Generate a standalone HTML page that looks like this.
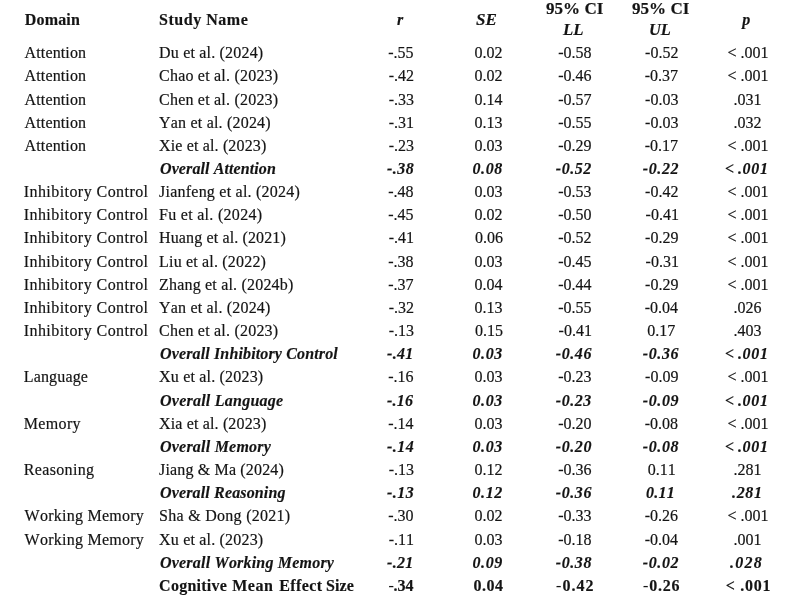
<!DOCTYPE html>
<html><head><meta charset="utf-8"><title>Table</title>
<style>
html,body{margin:0;padding:0;background:#fff;}
body{font-kerning:none;font-variant-ligatures:none;width:800px;height:613px;position:relative;overflow:hidden;font-family:"Liberation Serif","Times New Roman",serif;font-size:16px;color:#141414;}
.t{position:absolute;white-space:pre;line-height:20px;height:20px;-webkit-text-stroke:0.18px #141414;}
.b{font-weight:bold;-webkit-text-stroke:0.15px;}
.bi{font-weight:bold;font-style:italic;-webkit-text-stroke:0.15px;}
.rw{font-weight:normal;}
.lt{margin-right:3px;}
</style></head><body>
<div class="t b" style="left:24.80px;top:10px;letter-spacing:0.16px">Domain</div>
<div class="t b" style="left:159.05px;top:10px;letter-spacing:0.53px">Study Name</div>
<div class="t bi" style="left:397.07px;top:10px">r</div>
<div class="t bi" style="left:476.43px;top:10px;transform:scaleX(1.0624);transform-origin:0 0">SE</div>
<div class="t b" style="left:545.93px;top:-1px;transform:scaleX(1.0662);transform-origin:0 0">95% CI</div>
<div class="t bi" style="left:563.45px;top:20px;transform:scaleX(1.0489);transform-origin:0 0">LL</div>
<div class="t b" style="left:631.87px;top:-1px;transform:scaleX(1.0663);transform-origin:0 0">95% CI</div>
<div class="t bi" style="left:649.39px;top:20px;transform:scaleX(1.0252);transform-origin:0 0">UL</div>
<div class="t bi" style="left:742.25px;top:10px">p</div>
<div class="t" style="left:24.60px;top:43px;letter-spacing:0.13px">Attention</div>
<div class="t" style="left:159.05px;top:43px;letter-spacing:0.19px">Du et al. (2024)</div>
<div class="t" style="left:388.20px;top:43px">-.55</div>
<div class="t" style="left:474.45px;top:43px">0.02</div>
<div class="t" style="left:558.15px;top:43px">-0.58</div>
<div class="t" style="left:645.10px;top:43px">-0.52</div>
<div class="t" style="left:727.60px;top:43px">&lt; .001</div>
<div class="t" style="left:24.60px;top:66px;letter-spacing:0.13px">Attention</div>
<div class="t" style="left:159.05px;top:66px;letter-spacing:0.21px">Chao et al. (2023)</div>
<div class="t" style="left:388.65px;top:66px">-.42</div>
<div class="t" style="left:474.45px;top:66px">0.02</div>
<div class="t" style="left:558.15px;top:66px">-0.46</div>
<div class="t" style="left:644.65px;top:66px">-0.37</div>
<div class="t" style="left:727.60px;top:66px">&lt; .001</div>
<div class="t" style="left:24.60px;top:90px;letter-spacing:0.13px">Attention</div>
<div class="t" style="left:159.05px;top:90px;letter-spacing:0.21px">Chen et al. (2023)</div>
<div class="t" style="left:388.65px;top:90px">-.33</div>
<div class="t" style="left:474.45px;top:90px">0.14</div>
<div class="t" style="left:558.15px;top:90px">-0.57</div>
<div class="t" style="left:645.10px;top:90px">-0.03</div>
<div class="t" style="left:733.45px;top:90px">.031</div>
<div class="t" style="left:24.60px;top:113px;letter-spacing:0.13px">Attention</div>
<div class="t" style="left:159.05px;top:113px;letter-spacing:0.20px">Yan et al. (2024)</div>
<div class="t" style="left:388.65px;top:113px">-.31</div>
<div class="t" style="left:474.45px;top:113px">0.13</div>
<div class="t" style="left:558.15px;top:113px">-0.55</div>
<div class="t" style="left:645.10px;top:113px">-0.03</div>
<div class="t" style="left:733.45px;top:113px">.032</div>
<div class="t" style="left:24.60px;top:136px;letter-spacing:0.13px">Attention</div>
<div class="t" style="left:159.05px;top:136px;letter-spacing:0.15px">Xie et al. (2023)</div>
<div class="t" style="left:388.65px;top:136px">-.23</div>
<div class="t" style="left:474.45px;top:136px">0.03</div>
<div class="t" style="left:558.15px;top:136px">-0.29</div>
<div class="t" style="left:644.65px;top:136px">-0.17</div>
<div class="t" style="left:727.60px;top:136px">&lt; .001</div>
<div class="t bi" style="left:160.00px;top:159px;letter-spacing:0.10px">Overall Attention</div>
<div class="t bi" style="left:387.05px;top:159px;letter-spacing:0.43px">-.38</div>
<div class="t bi" style="left:472.40px;top:159px;letter-spacing:0.64px">0.08</div>
<div class="t bi" style="left:555.85px;top:159px;letter-spacing:0.54px">-0.52</div>
<div class="t bi" style="left:642.80px;top:159px;letter-spacing:0.60px">-0.22</div>
<div class="t bi" style="left:725.10px;top:159px;letter-spacing:0.70px"><span class="lt">&lt;</span>.001</div>
<div class="t" style="left:23.70px;top:182px;letter-spacing:0.44px">Inhibitory Control</div>
<div class="t" style="left:159.05px;top:182px;letter-spacing:0.23px">Jianfeng et al. (2024)</div>
<div class="t" style="left:388.20px;top:182px">-.48</div>
<div class="t" style="left:474.45px;top:182px">0.03</div>
<div class="t" style="left:558.15px;top:182px">-0.53</div>
<div class="t" style="left:645.10px;top:182px">-0.42</div>
<div class="t" style="left:727.60px;top:182px">&lt; .001</div>
<div class="t" style="left:23.70px;top:205px;letter-spacing:0.44px">Inhibitory Control</div>
<div class="t" style="left:159.05px;top:205px;letter-spacing:0.29px">Fu et al. (2024)</div>
<div class="t" style="left:388.20px;top:205px">-.45</div>
<div class="t" style="left:474.45px;top:205px">0.02</div>
<div class="t" style="left:558.15px;top:205px">-0.50</div>
<div class="t" style="left:645.55px;top:205px">-0.41</div>
<div class="t" style="left:727.60px;top:205px">&lt; .001</div>
<div class="t" style="left:23.70px;top:228px;letter-spacing:0.44px">Inhibitory Control</div>
<div class="t" style="left:159.05px;top:228px;letter-spacing:0.13px">Huang et al. (2021)</div>
<div class="t" style="left:388.65px;top:228px">-.41</div>
<div class="t" style="left:474.90px;top:228px">0.06</div>
<div class="t" style="left:558.15px;top:228px">-0.52</div>
<div class="t" style="left:645.10px;top:228px">-0.29</div>
<div class="t" style="left:727.60px;top:228px">&lt; .001</div>
<div class="t" style="left:23.70px;top:252px;letter-spacing:0.44px">Inhibitory Control</div>
<div class="t" style="left:159.05px;top:252px;letter-spacing:0.18px">Liu et al. (2022)</div>
<div class="t" style="left:388.20px;top:252px">-.38</div>
<div class="t" style="left:474.45px;top:252px">0.03</div>
<div class="t" style="left:558.15px;top:252px">-0.45</div>
<div class="t" style="left:645.55px;top:252px">-0.31</div>
<div class="t" style="left:727.60px;top:252px">&lt; .001</div>
<div class="t" style="left:23.70px;top:275px;letter-spacing:0.44px">Inhibitory Control</div>
<div class="t" style="left:159.05px;top:275px;letter-spacing:0.19px">Zhang et al. (2024b)</div>
<div class="t" style="left:388.20px;top:275px">-.37</div>
<div class="t" style="left:474.45px;top:275px">0.04</div>
<div class="t" style="left:558.15px;top:275px">-0.44</div>
<div class="t" style="left:645.10px;top:275px">-0.29</div>
<div class="t" style="left:727.60px;top:275px">&lt; .001</div>
<div class="t" style="left:23.70px;top:298px;letter-spacing:0.44px">Inhibitory Control</div>
<div class="t" style="left:159.05px;top:298px;letter-spacing:0.18px">Yan et al. (2024)</div>
<div class="t" style="left:388.65px;top:298px">-.32</div>
<div class="t" style="left:474.45px;top:298px">0.13</div>
<div class="t" style="left:558.15px;top:298px">-0.55</div>
<div class="t" style="left:644.65px;top:298px">-0.04</div>
<div class="t" style="left:733.45px;top:298px">.026</div>
<div class="t" style="left:23.70px;top:321px;letter-spacing:0.44px">Inhibitory Control</div>
<div class="t" style="left:159.05px;top:321px;letter-spacing:0.21px">Chen et al. (2023)</div>
<div class="t" style="left:388.65px;top:321px">-.13</div>
<div class="t" style="left:474.90px;top:321px">0.15</div>
<div class="t" style="left:558.60px;top:321px">-0.41</div>
<div class="t" style="left:647.35px;top:321px">0.17</div>
<div class="t" style="left:733.45px;top:321px">.403</div>
<div class="t bi" style="left:160.00px;top:344px;letter-spacing:0.14px">Overall Inhibitory Control</div>
<div class="t bi" style="left:387.05px;top:344px;letter-spacing:0.27px">-.41</div>
<div class="t bi" style="left:472.40px;top:344px;letter-spacing:0.64px">0.03</div>
<div class="t bi" style="left:555.85px;top:344px;letter-spacing:0.56px">-0.46</div>
<div class="t bi" style="left:642.80px;top:344px;letter-spacing:0.60px">-0.36</div>
<div class="t bi" style="left:725.10px;top:344px;letter-spacing:0.70px"><span class="lt">&lt;</span>.001</div>
<div class="t" style="left:23.70px;top:367px;letter-spacing:0.17px">Language</div>
<div class="t" style="left:159.05px;top:367px;letter-spacing:0.19px">Xu et al. (2023)</div>
<div class="t" style="left:388.20px;top:367px">-.16</div>
<div class="t" style="left:474.45px;top:367px">0.03</div>
<div class="t" style="left:558.15px;top:367px">-0.23</div>
<div class="t" style="left:645.10px;top:367px">-0.09</div>
<div class="t" style="left:727.60px;top:367px">&lt; .001</div>
<div class="t bi" style="left:160.00px;top:391px;letter-spacing:0.24px">Overall Language</div>
<div class="t bi" style="left:387.05px;top:391px;letter-spacing:0.24px">-.16</div>
<div class="t bi" style="left:472.40px;top:391px;letter-spacing:0.64px">0.03</div>
<div class="t bi" style="left:555.85px;top:391px;letter-spacing:0.54px">-0.23</div>
<div class="t bi" style="left:642.80px;top:391px;letter-spacing:0.60px">-0.09</div>
<div class="t bi" style="left:725.10px;top:391px;letter-spacing:0.70px"><span class="lt">&lt;</span>.001</div>
<div class="t" style="left:23.70px;top:414px;letter-spacing:0.36px">Memory</div>
<div class="t" style="left:159.05px;top:414px;letter-spacing:0.15px">Xia et al. (2023)</div>
<div class="t" style="left:388.20px;top:414px">-.14</div>
<div class="t" style="left:474.45px;top:414px">0.03</div>
<div class="t" style="left:558.15px;top:414px">-0.20</div>
<div class="t" style="left:644.65px;top:414px">-0.08</div>
<div class="t" style="left:727.60px;top:414px">&lt; .001</div>
<div class="t bi" style="left:160.00px;top:437px;letter-spacing:0.22px">Overall Memory</div>
<div class="t bi" style="left:387.05px;top:437px;letter-spacing:0.45px">-.14</div>
<div class="t bi" style="left:472.40px;top:437px;letter-spacing:0.64px">0.03</div>
<div class="t bi" style="left:555.85px;top:437px;letter-spacing:0.56px">-0.20</div>
<div class="t bi" style="left:642.80px;top:437px;letter-spacing:0.60px">-0.08</div>
<div class="t bi" style="left:725.10px;top:437px;letter-spacing:0.70px"><span class="lt">&lt;</span>.001</div>
<div class="t" style="left:23.70px;top:460px;letter-spacing:0.36px">Reasoning</div>
<div class="t" style="left:159.05px;top:460px;letter-spacing:0.16px">Jiang &amp; Ma (2024)</div>
<div class="t" style="left:388.65px;top:460px">-.13</div>
<div class="t" style="left:474.45px;top:460px">0.12</div>
<div class="t" style="left:558.15px;top:460px">-0.36</div>
<div class="t" style="left:647.80px;top:460px">0.11</div>
<div class="t" style="left:733.45px;top:460px">.281</div>
<div class="t bi" style="left:160.00px;top:483px;letter-spacing:0.15px">Overall Reasoning</div>
<div class="t bi" style="left:387.05px;top:483px;letter-spacing:0.45px">-.13</div>
<div class="t bi" style="left:472.40px;top:483px;letter-spacing:0.64px">0.12</div>
<div class="t bi" style="left:555.85px;top:483px;letter-spacing:0.56px">-0.36</div>
<div class="t bi" style="left:646.05px;top:483px;letter-spacing:0.27px">0.11</div>
<div class="t bi" style="left:732.00px;top:483px;letter-spacing:0.67px">.281</div>
<div class="t" style="left:24.60px;top:506px;letter-spacing:0.25px">Working Memory</div>
<div class="t" style="left:159.05px;top:506px;letter-spacing:0.28px">Sha &amp; Dong (2021)</div>
<div class="t" style="left:388.20px;top:506px">-.30</div>
<div class="t" style="left:474.45px;top:506px">0.02</div>
<div class="t" style="left:558.15px;top:506px">-0.33</div>
<div class="t" style="left:644.65px;top:506px">-0.26</div>
<div class="t" style="left:727.60px;top:506px">&lt; .001</div>
<div class="t" style="left:24.60px;top:530px;letter-spacing:0.25px">Working Memory</div>
<div class="t" style="left:159.05px;top:530px;letter-spacing:0.19px">Xu et al. (2023)</div>
<div class="t" style="left:388.65px;top:530px">-.11</div>
<div class="t" style="left:474.45px;top:530px">0.03</div>
<div class="t" style="left:558.15px;top:530px">-0.18</div>
<div class="t" style="left:644.65px;top:530px">-0.04</div>
<div class="t" style="left:733.45px;top:530px">.001</div>
<div class="t bi" style="left:160.00px;top:553px;letter-spacing:0.20px">Overall Working Memory</div>
<div class="t bi" style="left:387.05px;top:553px;letter-spacing:0.27px">-.21</div>
<div class="t bi" style="left:472.40px;top:553px;letter-spacing:0.64px">0.09</div>
<div class="t bi" style="left:555.85px;top:553px;letter-spacing:0.56px">-0.38</div>
<div class="t bi" style="left:642.80px;top:553px;letter-spacing:0.60px">-0.02</div>
<div class="t bi" style="left:730.05px;top:553px;letter-spacing:1.20px">.028</div>
<div class="t b" style="left:159.10px;top:576px;letter-spacing:0.25px">Cognitive</div>
<div class="t b" style="left:232.20px;top:576px;letter-spacing:0.53px">Mean</div>
<div class="t b" style="left:279.20px;top:576px;letter-spacing:0.40px">Effect</div>
<div class="t b" style="left:325.90px;top:576px;letter-spacing:0.13px">Size</div>
<div class="t b" style="left:388.40px;top:576px;letter-spacing:-0.11px"><span class="rw">-</span>.34</div>
<div class="t b" style="left:473.60px;top:576px;letter-spacing:0.48px">0.04</div>
<div class="t b" style="left:556.05px;top:576px;letter-spacing:1.00px"><span class="rw">-</span>0.42</div>
<div class="t b" style="left:643.05px;top:576px;letter-spacing:0.80px"><span class="rw">-</span>0.26</div>
<div class="t b" style="left:725.70px;top:576px;letter-spacing:0.72px">&lt; .001</div>
</body></html>
